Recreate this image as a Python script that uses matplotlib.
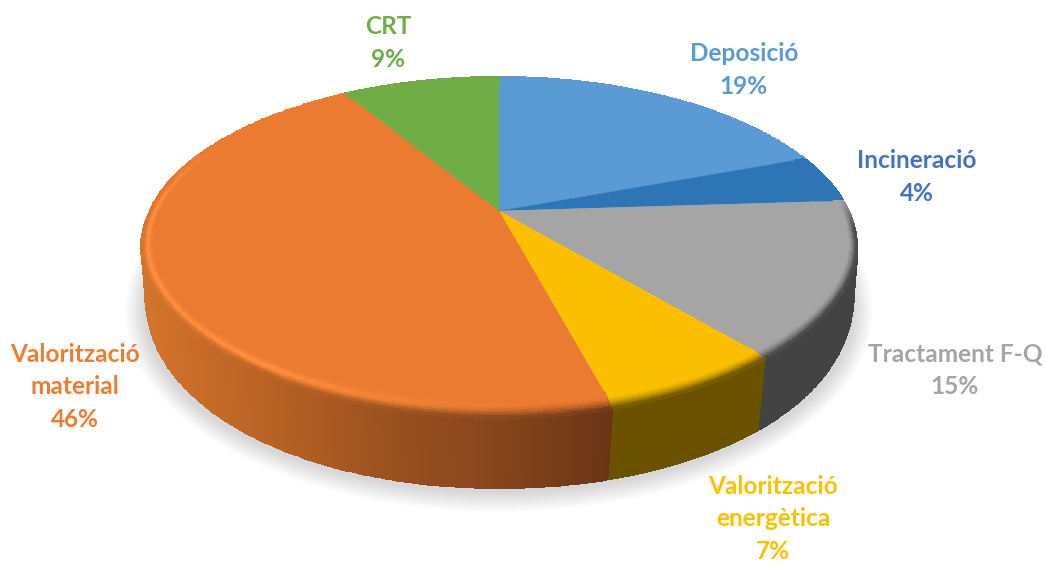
import numpy as np
import matplotlib
matplotlib.use('Agg')
import matplotlib.pyplot as plt
from matplotlib.colors import to_rgb

# shares (the labels are the rounded ones)
categories = ['Deposició', 'Incineració', 'Tractament F-Q', 'Valorització\nenergètica',
              'Valorització\nmaterial', 'CRT']
values = [19.4, 4.6, 14.8, 7.0, 45.5, 8.7]
pct_labels = ['19%', '4%', '15%', '7%', '46%', '9%']

top_colors = ['#5B9BD5', '#2E75B6', '#A5A5A5', '#FBBF00', '#EA7B30', '#70AD47']
side_colors = ['#3A6A95', '#1F4F7C', '#434343', '#6B5200', '#A85A22', '#4E7A32']
label_colors = ['#5B9BD5', '#4472C4', '#A5A5A5', '#FFC000', '#ED7D31', '#70AD47']
label_pos = [(744, 70), (917, 177), (955, 370), (773, 519), (75, 387), (388, 43)]

# orange side goes dark from left to right
orange_x = [143, 300, 400, 500, 612]
orange_side = ['#D2742C', '#B05D22', '#96501F', '#85451C', '#6A3515']

CX = 499
W, H = 1045, 564


def top_xy(theta, r=1.0, t=0.0):
    # theta clockwise from 12 o'clock, perspective circle
    # t is the position across the rim, the near rim pulls in a little in x
    u, v = r * np.sin(theta), r * np.cos(theta)
    c = 0.214
    pull = 1 - 0.02 * np.clip((-np.cos(theta) - 0.3) / 0.5, 0, 1) * t
    return CX + 349.7 * pull * u / (1 + c * v), 211 - 162.7 * v / (1 + c * v)


def bottom_xy(theta):
    u, v = np.sin(theta), np.cos(theta)
    return CX + 349 * u / (1 + 0.165 * v), 262.4 - 203 * v / (1 + 0.1 * v)


def rim_width(theta):
    return np.sqrt((0.03 * np.sin(theta)) ** 2 + (0.072 * np.cos(theta)) ** 2)


def side_rgb(i, x):
    if i == 4:
        rgb = np.array([to_rgb(c) for c in orange_side])
        return np.stack([np.interp(x, orange_x, rgb[:, k]) for k in range(3)], axis=-1)
    return np.ones(np.shape(x) + (3,)) * np.array(to_rgb(side_colors[i]))


fig = plt.figure(figsize=(W / 100, H / 100), dpi=100)
ax = fig.add_axes([0, 0, 1, 1])

# soft shadow under the pie
for k in range(20, 0, -1):
    t = np.linspace(0, 2 * np.pi, 300)
    ax.fill(CX + (354 + k) * np.sin(t), 311 + (181 + k) * np.cos(t), color='k',
            alpha=0.0085, lw=0, zorder=1)

edges = np.cumsum([0] + values) / sum(values) * 2 * np.pi

# outer wall
for i in range(len(values)):
    th = np.linspace(edges[i], edges[i + 1], 300)
    x0, y0 = top_xy(th, 1.0, 1.0)
    x1, y1 = bottom_xy(th)
    X = np.vstack([x0, x1])
    Y = np.vstack([y0, y1])
    C = side_rgb(i, (x0[:-1] + x0[1:]) / 2)[None, :, :]
    ax.pcolormesh(X, Y, C, shading='flat', edgecolors='face', linewidth=0.4, zorder=2)

# top face stops where the rim starts
for i in range(len(values)):
    th = np.linspace(edges[i], edges[i + 1], 120)
    x, y = top_xy(th, 1 - 0.9 * rim_width(th))
    ax.fill(np.r_[CX, x], np.r_[211, y], color=top_colors[i], lw=0.3, zorder=3)

# rounded rim, highlight on the left, shade on the right
tt = np.linspace(0, 1, 13)
highlight = np.array(to_rgb('#FF8E3E'))
for i in range(len(values)):
    th = np.linspace(edges[i], edges[i + 1], 200)
    deg = np.degrees(th)
    R = 1 - np.outer(1 - tt, rim_width(th))
    TH = np.tile(th, (len(tt), 1))
    X, Y = top_xy(TH, R, tt[:, None])
    xm = (X[:, :-1] + X[:, 1:]) / 2
    tm = (tt[:-1] + tt[1:]) / 2
    dm = (deg[:-1] + deg[1:]) / 2
    shade = np.clip((dm - 85) / 12, 0, 1) * np.clip((285 - dm) / 25, 0, 1)
    w = np.outer(np.clip((tm - 0.35) / 0.65, 0, 1) ** 1.5, shade)[:, :, None]
    C = np.array(to_rgb(top_colors[i])) * (1 - w) + side_rgb(i, xm[:-1]) * w
    if i == 4:
        h = np.clip((dm - 175) / 40, 0, 1) * np.clip((295 - dm) / 20, 0, 1)
        bump = np.exp(-((tm - 0.5) / 0.22) ** 2)
        a = np.outer(bump, h)[:, :, None]
        C = C * (1 - a) + highlight * a
    ax.pcolormesh(X, Y, C, shading='flat', edgecolors='face', linewidth=0.3, zorder=4)

for i in range(len(values)):
    ax.text(label_pos[i][0], label_pos[i][1], categories[i] + '\n' + pct_labels[i],
            color=label_colors[i], fontsize=17.6, fontweight='bold', family='Lato',
            ha='center', va='center', linespacing=1.5, zorder=6)

ax.set_xlim(0, W)
ax.set_ylim(H, 0)
ax.axis('off')
fig.savefig('out.png', dpi=100)
